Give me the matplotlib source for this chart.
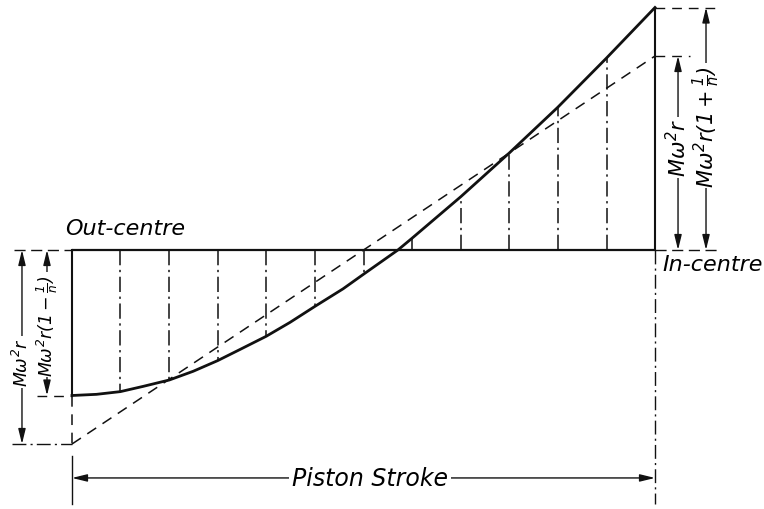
import matplotlib
matplotlib.use("Agg")
import matplotlib.pyplot as plt

# ---- data (force in units of M*omega^2*r, position as fraction of stroke) ----
# inertia-force curve
curve_x = [0.0, 0.042, 0.083, 0.122, 0.167, 0.208, 0.25, 0.288, 0.333,
           0.374, 0.417, 0.465, 0.5, 0.559, 0.583, 0.667, 0.75, 0.833,
           0.917, 1.0]
curve_force = [-0.75, -0.744, -0.73, -0.703, -0.67, -0.625, -0.57, -0.513,
               -0.445, -0.373, -0.29, -0.20, -0.125, 0.0, 0.06, 0.275,
               0.50, 0.735, 0.99, 1.25]
# ordinates (stroke divided into 12 parts)
ordinate_x = [0.0, 0.083, 0.167, 0.25, 0.333, 0.417, 0.5,
              0.583, 0.667, 0.75, 0.833, 0.917, 1.0]
ordinate_force = [-0.75, -0.73, -0.67, -0.57, -0.445, -0.29, -0.125,
                  0.06, 0.275, 0.50, 0.735, 0.99, 1.25]
# simple harmonic (infinite rod) line
shm_x = [0.0, 1.0]
shm_force = [-1.0, 1.0]

label_out = "Out-centre"
label_in = "In-centre"
label_stroke = "Piston Stroke"
label_mw2r = r"$M\omega^2r$"
label_minus = r"$M\omega^2r(1-\frac{1}{n})$"
label_plus = r"$M\omega^2r(1+\frac{1}{n})$"

plt.rcParams["font.family"] = ["DejaVu Sans"]
plt.rcParams["font.style"] = "italic"
plt.rcParams["mathtext.fontset"] = "custom"
plt.rcParams["mathtext.rm"] = "DejaVu Sans:italic"
plt.rcParams["mathtext.it"] = "DejaVu Sans:italic"
plt.rcParams["mathtext.bf"] = "DejaVu Sans:italic:bold"

fig = plt.figure(figsize=(7.64, 5.10), dpi=100)
ax = fig.add_axes([0, 0, 1, 1])
ax.set_xlim(-72 / 583, 692 / 583)
ax.set_ylim(-259 / 194, 251 / 194)
ax.axis("off")

K = "#111111"
dashdot = (0, (10, 3, 1.5, 3))
dashed = (0, (7, 5))

x0, x1 = ordinate_x[0], ordinate_x[-1]
f0, f1 = ordinate_force[0], ordinate_force[-1]
lo, hi = shm_force[0], shm_force[-1]

# base line
ax.plot([x0, x1], [0, 0], color=K, lw=1.6, solid_capstyle="butt")
# inertia curve
ax.plot(curve_x, curve_force, color=K, lw=2.0, solid_joinstyle="round")
# simple harmonic line
ax.plot(shm_x, shm_force, color=K, lw=1.1, linestyle=dashed)

# ordinates
for x, f in zip(ordinate_x[1:-1], ordinate_force[1:-1]):
    ax.plot([x, x], [0, f], color=K, lw=1.1, linestyle=dashdot)

# end verticals
ax.plot([x0, x0], [0, f0], color=K, lw=1.5)
ax.plot([x0, x0], [f0, lo], color=K, lw=1.1, linestyle=dashed)
ax.plot([x0, x0], [lo - 0.06, -1.31], color=K, lw=1.0)
ax.plot([x1, x1], [0, f1], color=K, lw=1.5)
ax.plot([x1, x1], [0, -1.31], color=K, lw=1.0, linestyle=dashdot)

# extension lines
ax.plot([x1, 1.106], [f1, f1], color=K, lw=1.0, linestyle=dashed)
ax.plot([x1, 1.06], [hi, hi], color=K, lw=1.0, linestyle=dashed)
ax.plot([x1, 1.106], [0, 0], color=K, lw=1.0, linestyle=(0, (8, 4)))
ax.plot([-0.1, x0], [0, 0], color=K, lw=1.0, linestyle=(0, (8, 4)))
ax.plot([-0.06, x0], [f0, f0], color=K, lw=1.0, linestyle=dashed)
ax.plot([-0.103, x0], [lo, lo], color=K, lw=1.0, linestyle=dashdot)

arrow = dict(arrowstyle="<|-|>,head_length=0.9,head_width=0.22", lw=1.0,
             color=K, shrinkA=0, shrinkB=0)
bbox = dict(facecolor="white", edgecolor="none", pad=1.0)
FS = 15
FSL = 12.5

# left dimensions
ax.annotate("", xy=(-0.0858, 0), xytext=(-0.0858, lo), arrowprops=arrow)
ax.text(-0.0858, -0.577, label_mw2r, rotation=90, ha="center", va="center",
        fontsize=FSL, bbox=bbox)
ax.annotate("", xy=(-0.0429, 0), xytext=(-0.0429, f0), arrowprops=arrow)
ax.text(-0.0429, -0.385, label_minus, rotation=90, ha="center", va="center",
        fontsize=FSL, bbox=bbox)

# right dimensions
ax.annotate("", xy=(1.0395, 0), xytext=(1.0395, hi), arrowprops=arrow)
ax.text(1.0395, 0.53, label_mw2r, rotation=90, ha="center", va="center",
        fontsize=FS, bbox=bbox)
ax.annotate("", xy=(1.0875, 0), xytext=(1.0875, f1), arrowprops=arrow)
ax.text(1.0875, 0.64, label_plus, rotation=90, ha="center", va="center",
        fontsize=FS, bbox=bbox)

# stroke
ax.annotate("", xy=(x0, -1.175), xytext=(x1, -1.175), arrowprops=arrow)
ax.text(0.511, -1.175, label_stroke, ha="center", va="center", fontsize=17,
        bbox=dict(facecolor="white", edgecolor="none", pad=2))

ax.text(-0.012, 0.113, label_out, ha="left", va="center", fontsize=16)
ax.text(1.012, -0.072, label_in, ha="left", va="center", fontsize=16)

fig.savefig("out.png", dpi=100, facecolor="white")
